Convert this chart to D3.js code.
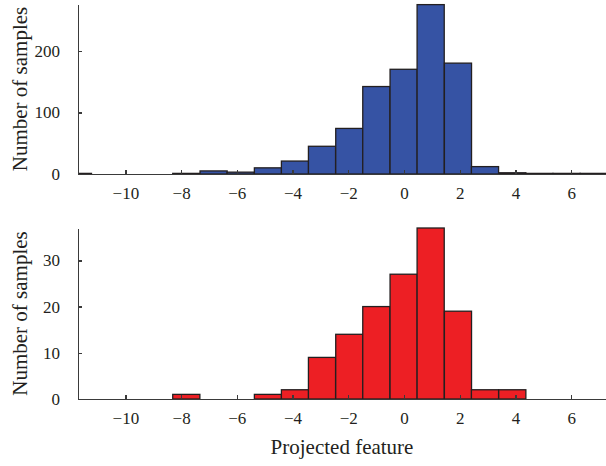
<!DOCTYPE html>
<html>
<head>
<meta charset="utf-8">
<script src="https://cdn.jsdelivr.net/npm/d3@7"></script>
<style>
  body { margin: 0; background: #fff; }
  svg { display: block; font-family: "Liberation Serif", "DejaVu Serif", serif; }
  .axis path, .axis line { stroke: #3a3a3a; stroke-width: 1.4; fill: none; shape-rendering: crispEdges; }
  .label { font-size: 21px; fill: #231f20; }
  rect.bar { stroke: #231f20; stroke-width: 1.3; }
</style>
</head>
<body>
<script>
// histogram bins (left edges), shared by both panels
const binStarts = [-12.19, -11.22, -10.25, -9.27, -8.30, -7.32, -6.35, -5.37, -4.40, -3.43,
                   -2.45, -1.48, -0.50, 0.47, 1.45, 2.42, 3.40, 4.37, 5.35, 6.32];
const binWidth = 0.974;

const countsTop    = [1, 0, 0, 0, 1, 5, 3, 10, 21, 45, 74, 142, 170, 275, 180, 12, 2, 1, 1, 1];
const countsBottom = [0, 0, 0, 0, 1, 0, 0, 1, 2, 9, 14, 20, 27, 37, 19, 2, 2, 0, 0, 0];

const xTicks = [-10, -8, -6, -4, -2, 0, 2, 4, 6];
const yTicksTop = [0, 100, 200];
const yTicksBottom = [0, 10, 20, 30];

const W = 606, H = 466;
const margin = { left: 78, right: 0 };

function translation(x, y) {
  return 'translate(' + x + ',' + y + ')';
}

const svg = d3.select('body').append('svg')
  .attr('width', W)
  .attr('height', H);

const x = d3.scaleLinear()
  .domain([-11.7, 7.25])
  .range([margin.left, W - margin.right]);

function styleTicks(sel) {
  sel.selectAll('text')
    .attr('fill', '#231f20')
    .style('font-family', '"Liberation Serif", serif')
    .style('font-size', '17px');
}

function drawPanel(id, counts, color, yTop, yBase, yMax, yTicks) {
  const y = d3.scaleLinear()
    .domain([0, yMax])
    .range([yBase, yTop]);

  svg.append('clipPath')
    .attr('id', id)
    .append('rect')
    .attr('x', margin.left)
    .attr('y', yTop - 2)
    .attr('width', W - margin.left)
    .attr('height', yBase - yTop + 4);

  const bins = binStarts.map((s, i) => ({ x0: s, x1: s + binWidth, n: counts[i] }));

  svg.append('g')
    .attr('clip-path', 'url(#' + id + ')')
    .selectAll('rect')
    .data(bins)
    .enter().append('rect')
    .attr('class', 'bar')
    .attr('fill', color)
    .attr('x', d => x(d.x0))
    .attr('width', d => x(d.x1) - x(d.x0))
    .attr('y', d => y(d.n))
    .attr('height', d => y(0) - y(d.n));

  // axes, ticks point inward
  const gx = svg.append('g')
    .attr('class', 'axis x')
    .attr('transform', translation(0, yBase))
    .call(d3.axisBottom(x).tickValues(xTicks).tickSize(-4).tickSizeOuter(0).tickPadding(10));
  styleTicks(gx);
  gx.selectAll('text').attr('dy', '0.9em');

  const gy = svg.append('g')
    .attr('class', 'axis y')
    .attr('transform', translation(margin.left, 0))
    .call(d3.axisLeft(y).tickValues(yTicks).tickSize(-4).tickSizeOuter(0).tickPadding(18));
  styleTicks(gy);

  svg.append('text')
    .attr('class', 'label')
    .attr('transform', translation(27, (yTop + yBase) / 2) + ' rotate(-90)')
    .attr('text-anchor', 'middle')
    .text('Number of samples');
}

drawPanel('clipTop', countsTop, '#3653a4', 4, 174, 276, yTicksTop);
drawPanel('clipBottom', countsBottom, '#ed1f24', 228, 399, 37, yTicksBottom);

svg.append('text')
  .attr('class', 'label')
  .attr('x', 342)
  .attr('y', 454)
  .attr('text-anchor', 'middle')
  .text('Projected feature');
</script>
</body>
</html>
